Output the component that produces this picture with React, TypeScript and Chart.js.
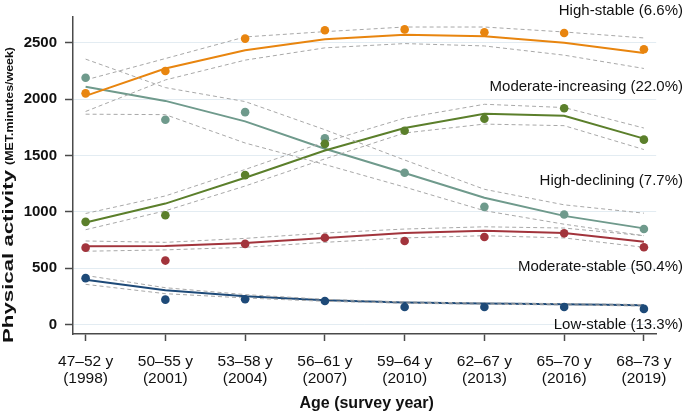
import React, { useEffect, useRef } from 'react';
import { Chart, registerables } from 'chart.js';

Chart.register(...registerables);

const FONT = "'Liberation Sans', Arial, Helvetica, sans-serif";

// Categories (x axis)
const ageLabels = ['47–52 y', '50–55 y', '53–58 y', '56–61 y', '59–64 y', '62–67 y', '65–70 y', '68–73 y'];
const yearLabels = ['(1998)', '(2001)', '(2004)', '(2007)', '(2010)', '(2013)', '(2016)', '(2019)'];

// High-stable (6.6%)
const highStableObs = [2052, 2250, 2538, 2612, 2620, 2594, 2588, 2444];
const highStableFit = [2030, 2273, 2435, 2532, 2573, 2559, 2502, 2411];
const highStableUp = [2171, 2361, 2553, 2600, 2641, 2641, 2597, 2544];
const highStableLo = [1891, 2171, 2347, 2456, 2494, 2473, 2391, 2273];

// Moderate-increasing (22.0%)
const modIncObs = [911, 970, 1326, 1603, 1720, 1826, 1920, 1641];
const modIncFit = [905, 1073, 1303, 1544, 1744, 1870, 1853, 1650];
const modIncUp = [985, 1141, 1376, 1620, 1832, 1955, 1926, 1744];
const modIncLo = [841, 1009, 1229, 1470, 1700, 1779, 1765, 1553];

// High-declining (7.7%)
const highDecObs = [2191, 1818, 1885, 1653, 1347, 1044, 976, 847];
const highDecFit = [2111, 1985, 1803, 1560, 1345, 1125, 964, 853];
const highDecUp = [2356, 2103, 1979, 1729, 1460, 1200, 1062, 988];
const highDecLo = [1867, 1863, 1611, 1420, 1220, 1010, 890, 788];

// Moderate-stable (50.4%)
const modStabObs = [682, 567, 715, 770, 741, 776, 809, 685];
const modStabFit = [694, 697, 723, 768, 812, 832, 812, 735];
const modStabUp = [741, 729, 764, 812, 847, 867, 856, 788];
const modStabLo = [650, 662, 685, 729, 768, 788, 768, 685];

// Low-stable (13.3%)
const lowStabObs = [411, 220, 223, 208, 155, 155, 155, 138];
const lowStabFit = [397, 303, 250, 214, 194, 185, 179, 170];
const lowStabUp = [435, 326, 265, 223, 200, 191, 185, 177];
const lowStabLo = [356, 273, 235, 205, 188, 179, 173, 163];

const yTicks = [0, 500, 1000, 1500, 2000, 2500];

const groupLabels = [
  'High-stable (6.6%)',
  'Moderate-increasing (22.0%)',
  'High-declining (7.7%)',
  'Moderate-stable (50.4%)',
  'Low-stable (13.3%)',
];

const COLORS = {
  highStable: '#E8850F',
  modInc: '#5B7F2B',
  highDec: '#6F9A8C',
  modStab: '#A2343C',
  lowStab: '#1E4A78',
};

const toXY = (arr: number[]) => arr.map((v, i) => ({ x: i, y: v }));

function group(obs: number[], fit: number[], up: number[], lo: number[], color: string) {
  return [
    {
      data: toXY(obs), showLine: false, pointRadius: 4.3, pointBackgroundColor: color,
      pointBorderWidth: 0, borderColor: color, order: 0,
    },
    {
      data: toXY(up), borderColor: '#A8A8A8', borderWidth: 1, borderDash: [4, 3], pointRadius: 0, order: 1,
    },
    {
      data: toXY(lo), borderColor: '#A8A8A8', borderWidth: 1, borderDash: [4, 3], pointRadius: 0, order: 1,
    },
    {
      data: toXY(fit), borderColor: color, borderWidth: 2, pointRadius: 0, order: 2,
    },
  ];
}

const textPlugin = {
  id: 'customText',
  afterDraw(chart: any) {
    const ctx = chart.ctx as CanvasRenderingContext2D;
    const area = chart.chartArea;
    ctx.save();
    ctx.fillStyle = '#111';

    // Y axis title (two sizes), rotated
    ctx.save();
    ctx.translate(12.5, 343);
    ctx.rotate(-Math.PI / 2);
    ctx.textAlign = 'left';
    ctx.textBaseline = 'alphabetic';
    const big = 'Physical activity';
    const small = '(MET.minutes/week)';
    ctx.font = `bold 15px ${FONT}`;
    const wb = ctx.measureText(big).width;
    ctx.save();
    ctx.scale(173 / wb, 1);
    ctx.fillText(big, 0, 0);
    ctx.restore();
    ctx.translate(178, 0);
    ctx.font = `bold 10.5px ${FONT}`;
    const ws = ctx.measureText(small).width;
    ctx.save();
    ctx.scale(118 / ws, 1);
    ctx.fillText(small, 0, 0);
    ctx.restore();
    ctx.restore();

    // X axis title
    ctx.font = `bold 16px ${FONT}`;
    ctx.textAlign = 'center';
    ctx.textBaseline = 'alphabetic';
    ctx.fillText('Age (survey year)', (area.left + area.right) / 2 + 2, 408);

    // Group labels on right
    ctx.font = `15px ${FONT}`;
    ctx.textAlign = 'right';
    ctx.textBaseline = 'middle';
    const ys = [10, 86, 180, 266, 324.5];
    groupLabels.forEach((t, i) => ctx.fillText(t, 683, ys[i] + 0.5));
    ctx.restore();
  },
};

export default function App() {
  const ref = useRef<HTMLCanvasElement | null>(null);

  useEffect(() => {
    if (!ref.current) return;
    const datasets: any[] = [
      ...group(highStableObs, highStableFit, highStableUp, highStableLo, COLORS.highStable),
      ...group(modIncObs, modIncFit, modIncUp, modIncLo, COLORS.modInc),
      ...group(highDecObs, highDecFit, highDecUp, highDecLo, COLORS.highDec),
      ...group(modStabObs, modStabFit, modStabUp, modStabLo, COLORS.modStab),
      ...group(lowStabObs, lowStabFit, lowStabUp, lowStabLo, COLORS.lowStab),
    ];
    const chart = new Chart(ref.current, {
      type: 'line',
      data: { datasets },
      plugins: [textPlugin],
      options: {
        responsive: false,
        animation: false,
        devicePixelRatio: 1,
        layout: { padding: { top: 15, right: 24, left: 0, bottom: 0 } },
        plugins: { legend: { display: false }, tooltip: { enabled: false } },
        scales: {
          x: {
            type: 'linear',
            min: -0.158,
            max: 7.154,
            afterFit: (s: any) => { s.height = 79; },
            ticks: {
              stepSize: 1,
              includeBounds: false,
              autoSkip: false,
              maxRotation: 0,
              minRotation: 0,
              padding: 13,
              color: '#111',
              font: { family: FONT, size: 15.5, lineHeight: 1.05 },
              callback: (v: any) => {
                const i = Number(v);
                return Number.isInteger(i) && i >= 0 && i < ageLabels.length ? [ageLabels[i], yearLabels[i]] : '';
              },
            },
            grid: { drawOnChartArea: false, drawTicks: true, tickLength: 7, tickColor: '#4a4a4a', tickWidth: 1.5 },
            border: { display: true, color: '#4a4a4a', width: 1.5 },
          },
          y: {
            type: 'linear',
            min: -85,
            max: 2730,
            afterFit: (s: any) => { s.width = 73; },
            afterBuildTicks: (s: any) => { s.ticks = yTicks.map((v) => ({ value: v })); },
            ticks: {
              stepSize: 500,
              includeBounds: false,
              padding: 8,
              color: '#111',
              font: { family: FONT, size: 15, weight: 'bold' },
              callback: (v: any) => String(v),
            },
            grid: { color: '#E3ECF2', lineWidth: 1, drawTicks: true, tickLength: 8, tickColor: '#4a4a4a', tickWidth: 1.5 },
            border: { display: true, color: '#4a4a4a', width: 1.5 },
          },
        },
      } as any,
    });
    return () => chart.destroy();
  }, []);

  return (
    <div style={{ position: 'fixed', left: 0, top: 0, width: 685, height: 413, background: '#fff' }}>
      <canvas ref={ref} width={685} height={413} style={{ display: 'block' }} />
    </div>
  );
}
